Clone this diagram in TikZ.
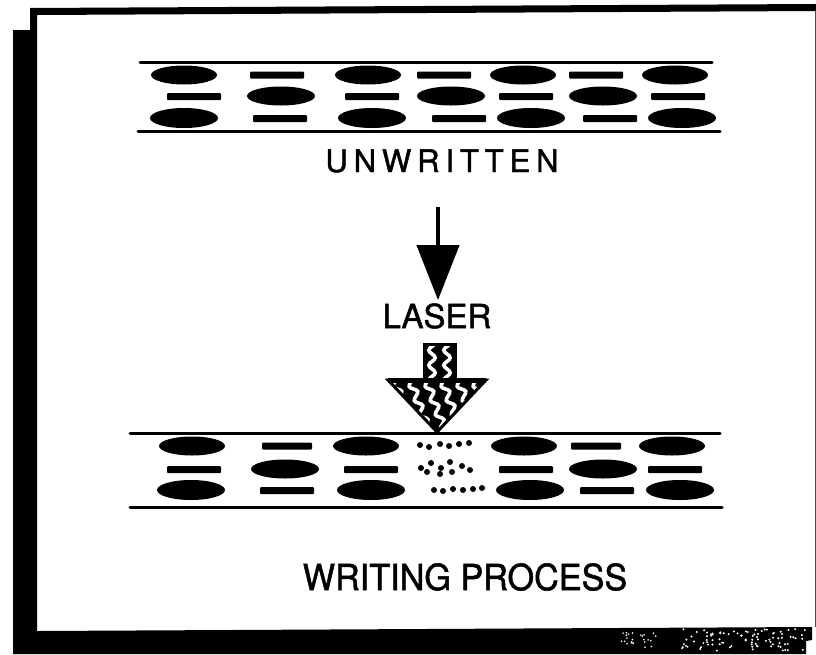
\documentclass[tikz,border=0pt]{standalone}
\usepackage{fontspec}
\setmainfont{TeX Gyre Heros}
\usetikzlibrary{arrows.meta,decorations.pathmorphing}
\begin{document}
\begin{tikzpicture}[x=1pt,y=-1pt,
  blob/.style={fill=black},
  layerline/.style={line width=3pt,line cap=round},
  lbl/.style={inner sep=0pt,text=black},
  wig/.style={white,line width=3.6pt,decorate,decoration={snake,amplitude=3.2pt,segment length=15pt}},
  thinarrow/.style={line width=4.5pt,-{Triangle[length=55pt,width=42pt]}}]
\useasboundingbox (0,0) rectangle (816,654);
\fill[white] (0,0) rectangle (816,654);
% frame
\fill (30,8) -- (816,4) -- (816,11) -- (37,15) -- (37,631) -- (812,627) -- (812,640) -- (806,641) -- (806,654) -- (13,654) -- (13,30) -- (30,30) -- cycle;
\draw[line width=1pt,black!70] (815.5,11) -- (815.5,627);
\pgfmathsetseed{11}
\foreach \i in {1,...,25}{
  \pgfmathsetmacro\xx{620+38*rnd}\pgfmathsetmacro\yy{632+16*rnd}
  \fill[white] (\xx,\yy) circle [radius=0.9];}
\foreach \i in {1,...,90}{
  \pgfmathsetmacro\xx{682+124*rnd}\pgfmathsetmacro\yy{629+22*rnd}
  \fill[white] (\xx,\yy) circle [radius=1.1];}
% ---------- unwritten layer
\coordinate (tl1) at (140,62); \coordinate (tr1) at (712,62);
\coordinate (bl1) at (138,131); \coordinate (br1) at (720,131);
\draw[layerline] (tl1) -- (tr1);
\draw[layerline] (bl1) -- (br1);
\foreach \x in {184,368,523,675} \fill[blob] (\x,75) ellipse [x radius=33, y radius=9.5];
\foreach \x in {277,444,596} \fill[blob,rounded corners=1pt] (\x-27,71.5) rectangle (\x+27,78.5);
\foreach \x in {194,372,526,678} \fill[blob,rounded corners=1pt] (\x-27,93) rectangle (\x+27,100);
\foreach \x in {281,451,603} \fill[blob] (\x,96) ellipse [x radius=34, y radius=9.5];
\foreach \x in {184,372,531,682} \fill[blob] (\x,118) ellipse [x radius=34, y radius=10];
\foreach \x in {280,459,610} \fill[blob,rounded corners=1pt] (\x-27,115) rectangle (\x+27,122);
\node[lbl,font=\fontsize{31}{31}\selectfont\addfontfeatures{LetterSpace=19,FakeBold=1.4}] (unw) at (442,161) {UNWRITTEN};
% ---------- arrow
\coordinate (arrTop) at (438,207);
\coordinate (arrTip) at (438,300);
\draw[thinarrow] (arrTop) -- (arrTip);
\node[lbl,font=\fontsize{33}{33}\selectfont\addfontfeatures{FakeBold=1.4}] (laser) at (437,316) {LASER};
% ---------- laser beam (hatched arrow)
\coordinate (bxA) at (424,344); \coordinate (bxB) at (455,380);
\coordinate (trL) at (388,380); \coordinate (trR) at (486,380); \coordinate (trT) at (437,432);
\begin{scope}
  \clip (bxA) rectangle (bxB);
  \fill (bxA) rectangle (bxB);
  \draw[wig] (432,338) -- (432,386);
  \draw[wig] (447,338) -- (447,386);
\end{scope}
\draw[line width=3pt] (bxA) rectangle (bxB);
\begin{scope}
  \clip (trL) -- (trR) -- (trT) -- cycle;
  \fill (trL) -- (trR) -- (trT) -- cycle;
  \foreach \x in {376,392,...,488} \draw[wig] (\x,374) -- (\x+24,440);
\end{scope}
\draw[line width=3pt,line join=miter] (trL) -- (trR) -- (trT) -- cycle;
\draw[line width=5pt] (trL) -- (trR);
% ---------- writing layer
\coordinate (tl2) at (130,433); \coordinate (tr2) at (720,433);
\coordinate (bl2) at (130,507); \coordinate (br2) at (722,507);
\draw[layerline] (tl2) -- (tr2);
\draw[layerline] (bl2) -- (br2);
\foreach \x in {192,366,524,672} \fill[blob] (\x,446) ellipse [x radius=33, y radius=9.5];
\foreach \x in {287,596} \fill[blob,rounded corners=1pt] (\x-25,442.5) rectangle (\x+25,449.5);
\foreach \x in {194,371,526,675} \fill[blob,rounded corners=1pt] (\x-27,466) rectangle (\x+27,473);
\foreach \x in {285,603} \fill[blob] (\x,469) ellipse [x radius=34, y radius=9.5];
\foreach \x in {191,371,530,680} \fill[blob] (\x,490) ellipse [x radius=34, y radius=10];
\foreach \x in {287,607} \fill[blob,rounded corners=1pt] (\x-27,487) rectangle (\x+27,494);
% dots (written spot)
\foreach \p in {(420,445),(429,447),(440,444),(449,446),(459,444),(469,443),
                (421,468),(427,472),(431,463),(441,468),(450,462),(452,472),(462,466),(470,470),(440,474),
                (434,490),(443,491),(453,489),(463,490),(473,489),(482,488)}
  \fill \p circle [radius=3];
\node[lbl,font=\fontsize{36}{36}\selectfont\addfontfeatures{FakeBold=1.4},xscale=0.95,transform shape] (wp) at (465,577) {WRITING PROCESS};
\end{tikzpicture}
\end{document}
